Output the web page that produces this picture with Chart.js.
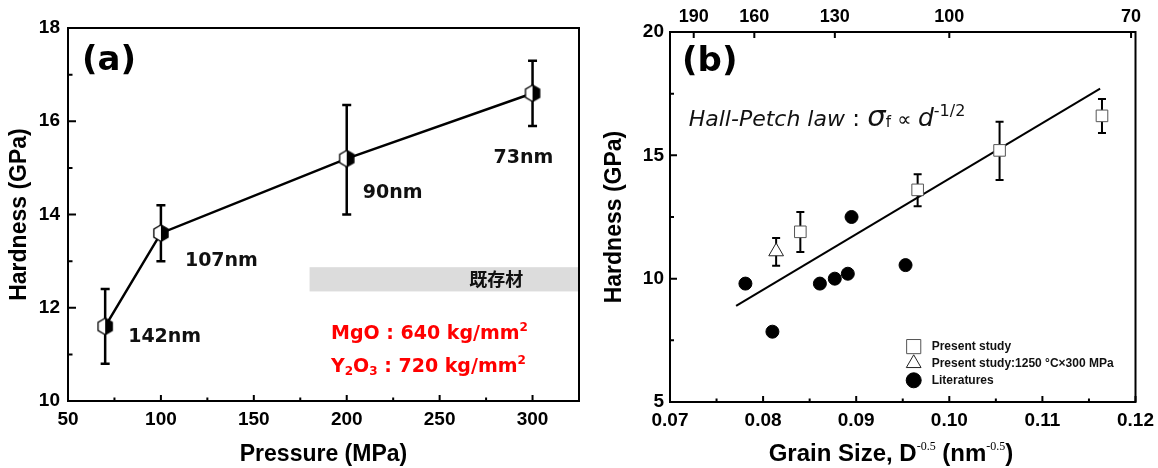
<!DOCTYPE html>
<html>
<head>
<meta charset="utf-8">
<script src="https://cdn.jsdelivr.net/npm/chart.js@4.4.1/dist/chart.umd.min.js"></script>
<style>
  body { margin: 0; background: #fff; }
  .wrap { display: flex; width: 1158px; height: 468px; }
  canvas { display: block; }
</style>
</head>
<body>
<div class="wrap">
  <canvas id="chartA" width="582" height="468"></canvas>
  <canvas id="chartB" width="576" height="468"></canvas>
</div>
<script>
// ---- panel (a): hardness vs sintering pressure ----
const pressure = [70, 100, 200, 300];
const hardnessA = [11.6, 13.6, 15.2, 16.6];
const errHighA = [12.4, 14.2, 16.35, 17.3];
const errLowA = [10.8, 13.0, 14.0, 15.9];
const grainLabelsA = ["142nm", "107nm", "90nm", "73nm"];
const bandPressure = [180, 325];
const bandHardness = [12.35, 12.87];
const bandLabel = "既存材";

// ---- panel (b): Hall-Petch plot ----
const presentX = [0.0840, 0.0966, 0.1054, 0.1164];
const presentY = [11.9, 13.6, 15.2, 16.6];
const presentHigh = [12.7, 14.23, 16.36, 17.28];
const presentLow = [11.08, 12.94, 14.0, 15.91];
const hipX = [0.0814];
const hipY = [11.1];
const hipHigh = [11.65];
const hipLow = [10.52];
const litX = [0.0781, 0.0810, 0.0861, 0.0877, 0.0891, 0.0895, 0.0953];
const litY = [9.8, 7.85, 9.8, 10.0, 10.2, 12.5, 10.55];
const fitX = [0.0771, 0.1162];
const fitY = [8.9, 17.7];
const topGrainNm = [190, 160, 130, 100, 70];

Chart.defaults.color = "#000";
Chart.defaults.font.family = '"Liberation Sans", Arial, sans-serif';

const DJ = '"DejaVu Sans", sans-serif';

// half white / half black hexagon marker
function makeHexagon(size) {
  const c = document.createElement("canvas");
  c.width = size; c.height = size;
  const g = c.getContext("2d");
  const cx = size / 2, cy = size / 2, r = size / 2 - 0.8;
  const pt = deg => [cx + r * Math.cos(deg * Math.PI / 180), cy - r * Math.sin(deg * Math.PI / 180)];
  const poly = (degs, fill) => {
    g.beginPath();
    degs.forEach((d, i) => { const p = pt(d); i ? g.lineTo(p[0], p[1]) : g.moveTo(p[0], p[1]); });
    g.closePath();
    g.fillStyle = fill;
    g.fill();
  };
  poly([90, 150, 210, 270], "#fff");
  poly([90, 30, 330, 270], "#000");
  g.beginPath();
  [90, 150, 210, 270, 330, 30].forEach((d, i) => { const p = pt(d); i ? g.lineTo(p[0], p[1]) : g.moveTo(p[0], p[1]); });
  g.closePath();
  g.strokeStyle = "#000";
  g.lineWidth = 1.3;
  g.stroke();
  return c;
}

function drawRuns(ctx, x, y, runs, align) {
  let total = 0;
  runs.forEach(r => { ctx.font = r.font; total += ctx.measureText(r.text).width; });
  let cx = align === "center" ? x - total / 2 : x;
  ctx.textAlign = "left";
  ctx.textBaseline = "alphabetic";
  runs.forEach(r => {
    ctx.font = r.font;
    ctx.fillText(r.text, cx, y + (r.dy || 0));
    cx += ctx.measureText(r.text).width;
  });
}

function inwardTicks(ctx, scale, area, side, major, minor, withMinor) {
  const vals = scale.ticks.map(t => t.value);
  const marks = vals.map(v => [v, major]);
  if (withMinor) {
    for (let i = 0; i < vals.length - 1; i++) marks.push([(vals[i] + vals[i + 1]) / 2, minor]);
  }
  ctx.beginPath();
  marks.forEach(([v, len]) => {
    const p = scale.getPixelForValue(v);
    if (side === "bottom") { ctx.moveTo(p, area.bottom); ctx.lineTo(p, area.bottom - len); }
    else if (side === "top") { ctx.moveTo(p, area.top); ctx.lineTo(p, area.top + len); }
    else { ctx.moveTo(area.left, p); ctx.lineTo(area.left + len, p); }
  });
  ctx.stroke();
}

// fixed axis boxes so the plot frames land where the figure has them
function fixBox(size, horizontal) {
  return s => {
    if (horizontal) s.height = size; else s.width = size;
    s.paddingLeft = 0; s.paddingRight = 0; s.paddingTop = 0; s.paddingBottom = 0;
  };
}

const errorBars = {
  id: "errorBars",
  beforeDatasetsDraw(chart) {
    const ctx = chart.ctx;
    const yScale = chart.scales.y;
    chart.data.datasets.forEach((ds, di) => {
      if (!ds.errLow) return;
      const meta = chart.getDatasetMeta(di);
      ctx.save();
      ctx.strokeStyle = "#000";
      ctx.lineWidth = ds.errWidth;
      meta.data.forEach((pt, i) => {
        const yHi = yScale.getPixelForValue(ds.errHigh[i]);
        const yLo = yScale.getPixelForValue(ds.errLow[i]);
        const h = ds.capHalf;
        ctx.beginPath();
        ctx.moveTo(pt.x, yHi); ctx.lineTo(pt.x, yLo);
        ctx.moveTo(pt.x - h, yHi); ctx.lineTo(pt.x + h, yHi);
        ctx.moveTo(pt.x - h, yLo); ctx.lineTo(pt.x + h, yLo);
        ctx.stroke();
      });
      ctx.restore();
    });
  }
};

const axisFont = { family: '"Liberation Sans", Arial, sans-serif', weight: "bold", size: 19 };
const titleFont = { family: '"Liberation Sans", Arial, sans-serif', weight: "bold", size: 23, lineHeight: 1 };

// ---------------- chart (a) ----------------
const panelA = {
  id: "panelA",
  beforeDatasetsDraw(chart) {
    const { ctx, chartArea: a, scales: { x, y } } = chart;
    ctx.save();
    ctx.fillStyle = "#dcdcdc";
    const bx0 = x.getPixelForValue(bandPressure[0]), bx1 = x.getPixelForValue(bandPressure[1]);
    const by0 = y.getPixelForValue(bandHardness[1]), by1 = y.getPixelForValue(bandHardness[0]);
    ctx.fillRect(bx0, by0, bx1 - bx0, by1 - by0);
    ctx.fillStyle = "#111";
    ctx.font = 'bold 18px "Noto Sans CJK JP", sans-serif';
    ctx.textAlign = "center";
    ctx.textBaseline = "middle";
    ctx.fillText(bandLabel, x.getPixelForValue(280.5), (by0 + by1) / 2);
    ctx.restore();
  },
  afterDraw(chart) {
    const { ctx, chartArea: a, scales: { x, y } } = chart;
    ctx.save();
    ctx.strokeStyle = "#000";
    ctx.lineWidth = 2;
    inwardTicks(ctx, x, a, "bottom", 6, 3.5, true);
    inwardTicks(ctx, y, a, "left", 8, 4.5, true);
    ctx.strokeRect(a.left, a.top, a.right - a.left, a.bottom - a.top);

    // panel letter
    ctx.fillStyle = "#000";
    ctx.font = `bold 34px ${DJ}`;
    ctx.textAlign = "left";
    ctx.textBaseline = "alphabetic";
    ctx.fillText("(a)", a.left + 14, a.top + 42);

    // grain size labels next to points
    const offs = [[23, 16], [24, 33], [16, 39], [-39, 70]];
    const pts = chart.getDatasetMeta(0).data;
    ctx.fillStyle = "#111";
    ctx.font = `bold 19px ${DJ}`;
    grainLabelsA.forEach((t, i) => ctx.fillText(t, pts[i].x + offs[i][0], pts[i].y + offs[i][1]));

    // reference material values
    ctx.fillStyle = "#ff0000";
    const big = `bold 19px ${DJ}`, small = `bold 12px ${DJ}`;
    drawRuns(ctx, a.left + 263, a.top + 311, [
      { text: "MgO : 640 kg/mm", font: big },
      { text: "2", font: small, dy: -8 }
    ]);
    drawRuns(ctx, a.left + 263, a.top + 344, [
      { text: "Y", font: big },
      { text: "2", font: small, dy: 3 },
      { text: "O", font: big },
      { text: "3", font: small, dy: 3 },
      { text: " : 720 kg/mm", font: big },
      { text: "2", font: small, dy: -8 }
    ]);
    ctx.restore();
  }
};

new Chart(document.getElementById("chartA"), {
  type: "scatter",
  data: {
    datasets: [{
      data: pressure.map((p, i) => ({ x: p, y: hardnessA[i] })),
      errHigh: errHighA,
      errLow: errLowA,
      errWidth: 2.5,
      capHalf: 4.5,
      showLine: true,
      borderColor: "#000",
      borderWidth: 2.5,
      pointStyle: makeHexagon(18),
      pointRadius: 9,
      pointHoverRadius: 9
    }]
  },
  options: {
    responsive: false,
    animation: false,
    events: [],
    layout: { autoPadding: false, padding: { top: 28, right: 3, left: 0, bottom: 0 } },
    plugins: { legend: { display: false }, tooltip: { enabled: false } },
    scales: {
      x: {
        type: "linear", min: 50, max: 325,
        afterFit: fixBox(67, true),
        grid: { display: false, drawTicks: false },
        border: { display: false },
        ticks: { stepSize: 50, includeBounds: false, padding: 7, font: axisFont },
        title: { display: true, text: "Pressure (MPa)", font: titleFont, padding: { top: 0, bottom: 1.5 } }
      },
      y: {
        min: 10, max: 18,
        afterFit: fixBox(68, false),
        grid: { display: false, drawTicks: false },
        border: { display: false },
        ticks: { stepSize: 2, padding: 8, font: axisFont },
        title: { display: true, text: "Hardness (GPa)", font: titleFont, padding: { top: 8.5, bottom: 0 } }
      }
    }
  },
  plugins: [errorBars, panelA]
});

// ---------------- chart (b) ----------------
const panelB = {
  id: "panelB",
  afterDraw(chart) {
    const { ctx, chartArea: a, scales } = chart;
    ctx.save();
    ctx.strokeStyle = "#000";
    ctx.lineWidth = 2;
    inwardTicks(ctx, scales.x, a, "bottom", 6, 3.5, true);
    inwardTicks(ctx, scales.x2, a, "top", 6, 0, false);
    inwardTicks(ctx, scales.y, a, "left", 7, 4, true);
    ctx.strokeRect(a.left, a.top, a.right - a.left, a.bottom - a.top);

    ctx.fillStyle = "#000";
    ctx.font = `bold 34px ${DJ}`;
    ctx.textAlign = "left";
    ctx.textBaseline = "alphabetic";
    ctx.fillText("(b)", a.left + 12, a.top + 39);

    // Hall-Petch annotation
    ctx.fillStyle = "#111";
    drawRuns(ctx, a.left + 18.7, a.top + 94.3, [
      { text: "Hall-Petch law", font: `italic 22px ${DJ}` },
      { text: " : ", font: `23px ${DJ}` },
      { text: "σ", font: `italic 29px ${DJ}` },
      { text: "f", font: `15px ${DJ}`, dy: 1 },
      { text: " ∝ ", font: `20px ${DJ}` },
      { text: "d", font: `italic 25px ${DJ}` },
      { text: "-1/2", font: `16px ${DJ}`, dy: -10 }
    ]);

    // x axis title with superscripts
    ctx.fillStyle = "#000";
    const tf = 'bold 24px "Liberation Sans", Arial, sans-serif';
    const sf = '12px "Liberation Serif", serif';
    drawRuns(ctx, a.left + 221, 460.5, [
      { text: "Grain Size, D", font: tf },
      { text: "-0.5", font: sf, dy: -11 },
      { text: " (nm", font: tf },
      { text: "-0.5", font: sf, dy: -11 },
      { text: ")", font: tf }
    ], "center");

    // legend
    const items = chart.data.datasets.filter(ds => ds.label);
    const rows = [314.6, 331.3, 348.3];
    items.forEach((ds, i) => {
      const px = a.left + 243.7, py = a.top + rows[i];
      ctx.fillStyle = ds.pointBackgroundColor;
      ctx.strokeStyle = ds.pointBorderColor;
      ctx.lineWidth = 1;
      Chart.helpers.drawPoint(ctx, { pointStyle: ds.pointStyle, radius: ds.legendRadius, rotation: 0, borderWidth: 1 }, px, py);
      ctx.fillStyle = "#111";
      ctx.font = 'bold 12px "Liberation Sans", Arial, sans-serif';
      ctx.textAlign = "left";
      ctx.textBaseline = "middle";
      ctx.fillText(ds.label, a.left + 261.7, py);
    });
    ctx.restore();
  }
};

new Chart(document.getElementById("chartB"), {
  type: "scatter",
  data: {
    datasets: [
      {
        label: "Present study",
        data: presentX.map((x, i) => ({ x, y: presentY[i] })),
        errHigh: presentHigh, errLow: presentLow, errWidth: 2, capHalf: 4,
        pointStyle: "rect", pointRadius: 8.2, pointHoverRadius: 8.2, legendRadius: 10,
        pointBackgroundColor: "#fff", pointBorderColor: "#555", pointBorderWidth: 1
      },
      {
        label: "Present study:1250 °C×300 MPa",
        data: hipX.map((x, i) => ({ x, y: hipY[i] })),
        errHigh: hipHigh, errLow: hipLow, errWidth: 2, capHalf: 4,
        pointStyle: "triangle", pointRadius: 8.5, pointHoverRadius: 8.5, legendRadius: 8.5,
        pointBackgroundColor: "#fff", pointBorderColor: "#222", pointBorderWidth: 1
      },
      {
        label: "Literatures",
        data: litX.map((x, i) => ({ x, y: litY[i] })),
        pointStyle: "circle", pointRadius: 6.5, pointHoverRadius: 6.5, legendRadius: 7.5,
        pointBackgroundColor: "#000", pointBorderColor: "#000", pointBorderWidth: 1
      },
      {
        data: fitX.map((x, i) => ({ x, y: fitY[i] })),
        showLine: true, borderColor: "#000", borderWidth: 2,
        pointRadius: 0, pointHoverRadius: 0
      }
    ]
  },
  options: {
    responsive: false,
    animation: false,
    events: [],
    layout: { autoPadding: false, padding: { top: 0, right: 22.5, left: 0, bottom: 0 } },
    plugins: { legend: { display: false }, tooltip: { enabled: false } },
    scales: {
      x: {
        type: "linear", min: 0.07, max: 0.12,
        afterFit: fixBox(66, true),
        grid: { display: false, drawTicks: false },
        border: { display: false },
        ticks: { stepSize: 0.01, includeBounds: false, padding: 7, font: axisFont, callback: v => v.toFixed(2) }
      },
      x2: {
        type: "linear", axis: "x", position: "top", min: 0.07, max: 0.12,
        afterFit: fixBox(32, true),
        afterBuildTicks: s => { s.ticks = topGrainNm.map(d => ({ value: 1 / Math.sqrt(d) })); },
        grid: { display: false, drawTicks: false },
        border: { display: false },
        ticks: { autoSkip: false, padding: 4, font: { ...axisFont, size: 18 }, callback: (v, i) => String(topGrainNm[i]) }
      },
      y: {
        min: 5, max: 20,
        afterFit: fixBox(88, false),
        grid: { display: false, drawTicks: false },
        border: { display: false },
        ticks: { stepSize: 5, padding: 6, font: axisFont },
        title: { display: true, text: "Hardness (GPa)", font: titleFont, padding: { top: 21.5, bottom: 0 } }
      }
    }
  },
  plugins: [errorBars, panelB]
});
</script>
</body>
</html>
